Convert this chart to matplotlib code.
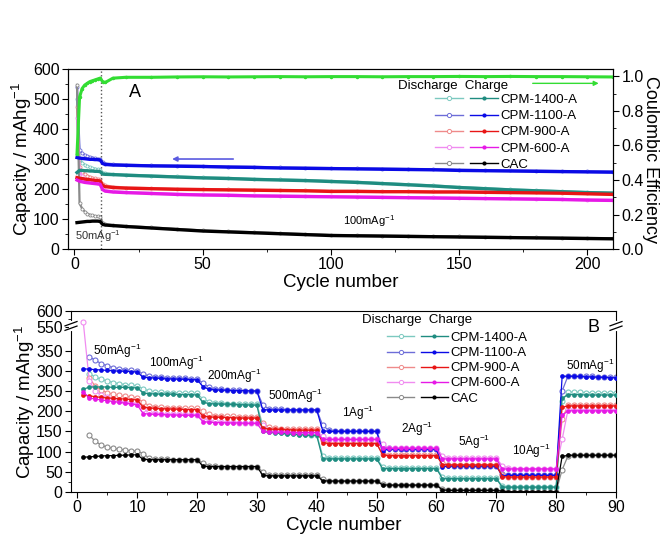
import numpy as np
import matplotlib
matplotlib.use('Agg')
import matplotlib.pyplot as plt
from matplotlib.lines import Line2D
from matplotlib.legend_handler import HandlerTuple
from matplotlib.ticker import MultipleLocator, FixedLocator

plt.rcParams['font.family'] = ['Liberation Sans', 'DejaVu Sans']
plt.rcParams['mathtext.fontset'] = 'custom'
plt.rcParams['mathtext.rm'] = 'Liberation Sans'

# ---------------- data, panel A (cycling at 100 mA/g) ----------------
cyc_a = [1, 2, 3, 4, 5, 6, 7, 8, 9, 10, 11, 12, 15, 20, 30, 40, 50, 60, 70, 80,
         90, 100, 110, 120, 130, 140, 150, 160, 170, 180, 190, 200, 210]

a_chg_1400 = [255, 262, 262, 261, 261, 260, 260, 259, 259, 258, 250, 249, 248, 246, 243, 240, 237,
              235, 232, 230, 228, 225, 222, 218, 214, 210, 205, 201, 197, 194, 191, 188, 186]
a_chg_1100 = [305, 303, 302, 301, 300, 299, 299, 298, 298, 297, 285, 282, 280, 279, 277, 276, 275,
              273, 272, 270, 269, 268, 267, 266, 265, 264, 262, 261, 260, 259, 258, 257, 256]
a_chg_900 = [238, 236, 235, 233, 232, 231, 230, 229, 228, 227, 212, 208, 205, 203, 201, 199, 198,
             197, 196, 195, 194, 192, 192, 191, 191, 190, 190, 189, 188, 187, 186, 184, 182]
a_chg_600 = [230, 226, 224, 222, 221, 220, 219, 218, 217, 216, 198, 193, 190, 188, 185, 182, 180,
             179, 177, 176, 175, 174, 173, 172, 171, 170, 169, 168, 167, 166, 165, 163, 162]
a_chg_cac = [88, 89, 90, 91, 92, 92, 93, 93, 93, 92, 82, 80, 78, 75, 70, 65, 60,
             57, 54, 51, 48, 45, 44, 43, 42, 41, 40, 39, 38, 37, 36, 35, 34]

a_dis_1400 = [500, 300, 288, 281, 277, 273, 270, 268, 266, 265, 255, 252, 250, 248, 245, 242, 239,
              237, 234, 232, 230, 227, 224, 220, 216, 212, 207, 203, 199, 196, 193, 190, 188]
a_dis_1100 = [540, 330, 320, 314, 310, 307, 305, 303, 301, 300, 290, 285, 283, 281, 279, 278, 277,
              275, 274, 272, 271, 270, 269, 268, 267, 266, 264, 263, 262, 261, 260, 259, 258]
a_dis_900 = [475, 275, 258, 250, 245, 241, 238, 236, 234, 232, 218, 212, 208, 205, 203, 201, 200,
             199, 198, 197, 196, 194, 194, 193, 193, 192, 192, 191, 190, 189, 188, 186, 184]
a_dis_600 = [437, 262, 242, 235, 230, 227, 225, 223, 221, 220, 203, 196, 193, 190, 187, 184, 182,
             181, 179, 178, 177, 176, 175, 174, 173, 172, 171, 170, 169, 168, 167, 165, 164]
a_dis_cac = [547, 152, 135, 125, 118, 114, 112, 110, 109, 108, 88, 83, 80, 77, 72, 67, 62,
             59, 56, 53, 50, 47, 46, 45, 44, 43, 42, 41, 40, 39, 38, 37, 36]

coul_eff = [0.55, 0.88, 0.93, 0.95, 0.96, 0.97, 0.975, 0.98, 0.985, 0.99, 0.97, 0.965, 0.99,
            0.995, 0.995, 0.997, 0.998, 0.997, 0.998, 0.999, 0.998, 0.999, 0.999, 0.998, 0.999,
            0.999, 1.0, 0.999, 1.0, 0.999, 0.999, 0.998, 0.997]

# ---------------- data, panel B (rate capability) ----------------
cyc_b = list(range(1, 91))
nan = np.nan

b_chg_1400 = [254, 260, 260, 260, 260, 259, 259, 259, 258, 258,
              245, 243, 243, 242, 242, 242, 241, 241, 241, 240,
              222, 219, 218, 218, 217, 217, 216, 216, 215, 215,
              150, 148, 146, 145, 144, 143, 142, 141, 140, 140,
              82, 82, 82, 82, 82, 82, 82, 82, 82, 82,
              58, 58, 58, 58, 58, 58, 58, 58, 58, 58,
              33, 33, 33, 33, 33, 33, 33, 33, 33, 33,
              12, 12, 12, 12, 12, 12, 12, 12, 12, 12,
              232, 241, 241, 241, 240, 240, 240, 240, 240, 240]
b_chg_1100 = [305, 304, 303, 302, 301, 300, 299, 299, 298, 297,
              284, 283, 282, 281, 280, 280, 279, 279, 278, 278,
              261, 254, 253, 252, 252, 251, 251, 251, 250, 250,
              204, 203, 203, 203, 203, 203, 203, 203, 203, 203,
              152, 150, 150, 150, 150, 150, 150, 150, 150, 150,
              102, 106, 106, 106, 106, 106, 106, 106, 106, 106,
              62, 64, 64, 64, 64, 64, 64, 64, 64, 64,
              40, 41, 41, 41, 41, 41, 41, 41, 41, 41,
              286, 287, 286, 286, 285, 285, 284, 284, 283, 283]
b_chg_900 = [240, 238, 236, 234, 233, 232, 231, 230, 229, 228,
             210, 208, 207, 206, 206, 205, 205, 204, 204, 204,
             188, 186, 185, 185, 184, 184, 183, 183, 183, 183,
             158, 156, 155, 155, 154, 154, 153, 153, 153, 153,
             122, 120, 120, 120, 120, 120, 120, 120, 120, 120,
             92, 90, 90, 90, 90, 90, 90, 90, 90, 90,
             68, 67, 67, 67, 67, 67, 67, 67, 67, 67,
             38, 37, 37, 37, 37, 37, 37, 37, 37, 37,
             210, 213, 213, 213, 213, 213, 213, 213, 213, 213]
b_chg_600 = [248, 233, 230, 228, 226, 224, 222, 220, 218, 216,
             194, 193, 192, 192, 191, 191, 190, 190, 190, 190,
             174, 173, 172, 172, 171, 171, 171, 170, 170, 170,
             150, 149, 148, 148, 148, 147, 147, 147, 147, 147,
             131, 130, 130, 130, 130, 130, 130, 130, 130, 130,
             108, 108, 108, 108, 108, 108, 108, 108, 108, 108,
             82, 82, 82, 82, 82, 82, 82, 82, 82, 82,
             57, 57, 57, 57, 57, 57, 57, 57, 57, 57,
             190, 201, 201, 201, 201, 201, 201, 201, 201, 201]
b_chg_cac = [86, 87, 88, 89, 90, 90, 91, 91, 92, 92,
             81, 80, 80, 80, 80, 80, 80, 80, 80, 80,
             64, 63, 63, 63, 63, 63, 63, 63, 63, 63,
             41, 40, 40, 40, 40, 40, 40, 40, 40, 40,
             28, 27, 27, 27, 27, 27, 27, 27, 27, 27,
             18, 17, 17, 17, 17, 17, 17, 17, 17, 17,
             5, 4, 4, 4, 4, 4, 4, 4, 4, 4,
             2, 1, 1, 1, 1, 1, 1, 1, 1, 1,
             88, 91, 91, 91, 91, 91, 91, 91, 91, 91]

b_dis_1400 = [nan, 293, 285, 279, 275, 271, 268, 266, 264, 263,
              255, 250, 248, 247, 246, 246, 245, 245, 244, 244,
              230, 224, 221, 220, 219, 219, 218, 218, 217, 217,
              165, 153, 150, 148, 146, 145, 144, 143, 142, 142,
              90, 84, 83, 83, 83, 83, 83, 83, 83, 83,
              63, 59, 59, 59, 59, 59, 59, 59, 59, 59,
              38, 34, 34, 34, 34, 34, 34, 34, 34, 34,
              15, 13, 13, 13, 13, 13, 13, 13, 13, 13,
              225, 248, 247, 247, 246, 246, 246, 245, 245, 245]
b_dis_1100 = [nan, 335, 326, 318, 312, 308, 305, 303, 301, 299,
              292, 287, 285, 284, 283, 282, 281, 281, 280, 280,
              270, 259, 255, 254, 253, 252, 252, 251, 251, 251,
              215, 206, 205, 205, 204, 204, 204, 204, 204, 204,
              165, 153, 152, 152, 151, 151, 151, 151, 151, 151,
              112, 108, 107, 107, 107, 107, 107, 107, 107, 107,
              70, 66, 65, 65, 65, 65, 65, 65, 65, 65,
              45, 42, 42, 42, 42, 42, 42, 42, 42, 42,
              250, 288, 287, 287, 286, 286, 285, 285, 284, 284]
b_dis_900 = [nan, 282, 262, 252, 246, 242, 239, 237, 235, 233,
             222, 214, 211, 210, 209, 208, 208, 207, 207, 207,
             200, 192, 189, 188, 187, 187, 186, 186, 186, 186,
             170, 160, 158, 157, 157, 156, 156, 156, 155, 155,
             128, 122, 121, 121, 121, 121, 121, 121, 121, 121,
             95, 92, 91, 91, 91, 91, 91, 91, 91, 91,
             72, 68, 68, 68, 68, 68, 68, 68, 68, 68,
             42, 38, 38, 38, 38, 38, 38, 38, 38, 38,
             180, 216, 215, 215, 215, 215, 215, 215, 215, 215]
b_dis_600 = [565, 275, 250, 240, 234, 229, 226, 223, 221, 219,
             205, 197, 195, 194, 193, 193, 192, 192, 192, 191,
             185, 177, 175, 174, 173, 173, 172, 172, 172, 172,
             165, 152, 150, 150, 149, 149, 149, 149, 149, 149,
             138, 132, 131, 131, 131, 131, 131, 131, 131, 131,
             118, 110, 109, 109, 109, 109, 109, 109, 109, 109,
             90, 85, 84, 84, 84, 84, 84, 84, 84, 84,
             65, 59, 58, 58, 58, 58, 58, 58, 58, 58,
             130, 205, 204, 204, 204, 204, 204, 204, 204, 204]
b_dis_cac = [nan, 140, 126, 116, 111, 108, 106, 104, 102, 101,
             95, 84, 82, 81, 81, 80, 80, 80, 80, 80,
             72, 65, 64, 63, 63, 63, 63, 63, 63, 63,
             50, 42, 41, 41, 41, 41, 41, 41, 41, 41,
             32, 28, 28, 28, 28, 28, 28, 28, 28, 28,
             20, 18, 18, 18, 18, 18, 18, 18, 18, 18,
             8, 5, 5, 5, 5, 5, 5, 5, 5, 5,
             2, 1, 1, 1, 1, 1, 1, 1, 1, 1,
             55, 90, 91, 91, 91, 91, 91, 91, 91, 91]

names = ['CPM-1400-A', 'CPM-1100-A', 'CPM-900-A', 'CPM-600-A', 'CAC']
c_chg = ['#1f8c80', '#0a0ae6', '#e81515', '#e619e6', '#000000']
c_dis = ['#7cc9c0', '#6d6dd8', '#ef8a8a', '#f08cf0', '#8a8a8a']

rates_b = ['50mAg$^{-1}$', '100mAg$^{-1}$', '200mAg$^{-1}$', '500mAg$^{-1}$', '1Ag$^{-1}$',
           '2Ag$^{-1}$', '5Ag$^{-1}$', '10Ag$^{-1}$', '50mAg$^{-1}$']
rate_pos = [(2.6, 350), (11.9, 320), (21.7, 288), (31.9, 238), (44.2, 197),
            (54.0, 157), (63.6, 125), (72.6, 103), (81.6, 313)]

fig = plt.figure(figsize=(6.63, 5.43), dpi=100)

# ================= panel A =================
ax1 = fig.add_axes([0.1026, 0.5414, 0.822, 0.3315])
a_chg = [a_chg_1400, a_chg_1100, a_chg_900, a_chg_600, a_chg_cac]
a_dis = [a_dis_1400, a_dis_1100, a_dis_900, a_dis_600, a_dis_cac]
for i in range(5):
    ax1.plot(cyc_a, a_dis[i], color=c_dis[i], lw=1.6, marker='o', ms=2.2,
             mfc='white', mew=0.6, zorder=2)
for i in range(5):
    ax1.plot(cyc_a, a_chg[i], color=c_chg[i], lw=2.4, zorder=3)

ax1.axvline(10.4, color='#555555', ls=':', lw=1)
ax1.set_xlim(-2.5, 210)
ax1.set_ylim(0, 600)
ax1.xaxis.set_major_locator(MultipleLocator(50))
ax1.xaxis.set_minor_locator(MultipleLocator(25))
ax1.yaxis.set_major_locator(MultipleLocator(100))
ax1.yaxis.set_minor_locator(MultipleLocator(50))
ax1.set_xlabel('Cycle number', fontsize=13.5, labelpad=1)
ax1.set_ylabel('Capacity / mAhg$^{-1}$', fontsize=13.5, labelpad=-1)
ax1.tick_params(labelsize=11.5, length=4, pad=2)
ax1.tick_params(which='minor', length=2)
ax1.tick_params(top=False)

ax1.annotate('', xy=(37, 300), xytext=(63, 300),
             arrowprops=dict(arrowstyle='-|>', color='#5a5ae0', lw=1.2, mutation_scale=7))
ax1.text(0.123, 0.87, 'A', transform=ax1.transAxes, fontsize=13, ha='center', va='center')
ax1.text(0.3, 44, '50mAg$^{-1}$', fontsize=8, ha='left', va='center', color='#333333')
ax1.text(104.7, 94, '100mAg$^{-1}$', fontsize=8, ha='left', va='center')

ax1r = ax1.twinx()
ax1r.plot(cyc_a, coul_eff, color='#33dd33', lw=2.2, marker='o', ms=1.5)
ax1r.set_ylim(0, 1.043)
ax1r.yaxis.set_major_locator(MultipleLocator(0.2))
ax1r.yaxis.set_minor_locator(MultipleLocator(0.1))
ax1r.yaxis.set_major_formatter(matplotlib.ticker.FormatStrFormatter('%.1f'))
ax1r.tick_params(labelsize=11.5, length=4, pad=2)
ax1r.tick_params(which='minor', length=2)
ax1r.set_ylabel('Coulombic Efficiency', fontsize=13, rotation=270, labelpad=11)
ax1r.annotate('', xy=(205.5, 0.96), xytext=(177.6, 0.96),
              arrowprops=dict(arrowstyle='-|>', color='#33dd33', lw=1.0, mutation_scale=7))


def legend_block(ax, hx, hy, lx, ly, hlen, lspace):
    handles = []
    for i in range(5):
        d = Line2D([], [], color=c_dis[i], lw=1, marker='o', ms=3, mfc='white', mew=0.7)
        c = Line2D([], [], color=c_chg[i], lw=1, marker='o', ms=3, mew=0)
        handles.append((d, c))
    ax.text(hx, hy, 'Discharge  Charge', transform=ax.transAxes, fontsize=9.5,
            ha='left', va='center')
    leg = ax.legend(handles, names, handler_map={tuple: HandlerTuple(ndivide=None, pad=0.5)},
                    loc='upper left', bbox_to_anchor=(lx, ly), frameon=False, fontsize=9.5,
                    handlelength=hlen, handletextpad=0.2, labelspacing=lspace,
                    borderaxespad=0, borderpad=0, numpoints=1)
    return leg


leg1 = legend_block(ax1r, 0.605, 0.907, 0.673, 0.862, 4.8, 0.3)

# ================= panel B =================
ax2 = fig.add_axes([0.1071, 0.0939, 0.822, 0.3333])

bp_lo, bp_hi = 380.0, 540.0
d_lo, d_hi, k_up = 380.0, 400.6, 0.79


def fwd(y):
    y = np.asarray(y, dtype=float)
    mid = d_lo + (y - bp_lo) * (d_hi - d_lo) / (bp_hi - bp_lo)
    up = d_hi + (y - bp_hi) * k_up
    return np.where(y <= bp_lo, y, np.where(y >= bp_hi, up, mid))


def inv(v):
    v = np.asarray(v, dtype=float)
    mid = bp_lo + (v - d_lo) * (bp_hi - bp_lo) / (d_hi - d_lo)
    up = bp_hi + (v - d_hi) / k_up
    return np.where(v <= d_lo, v, np.where(v >= d_hi, up, mid))


ax2.set_yscale('function', functions=(fwd, inv))

b_chg = [b_chg_1400, b_chg_1100, b_chg_900, b_chg_600, b_chg_cac]
b_dis = [b_dis_1400, b_dis_1100, b_dis_900, b_dis_600, b_dis_cac]
for i in range(5):
    ax2.plot(cyc_b, b_dis[i], color=c_dis[i], lw=0.9, marker='o', ms=3.6,
             mfc='white', mec=c_dis[i], mew=0.8, zorder=2)
for i in range(5):
    ax2.plot(cyc_b, b_chg[i], color=c_chg[i], lw=0.9, marker='o', ms=3.4, mew=0, zorder=3)

ax2.set_xlim(-1.05, 90)
ax2.set_ylim(0, 600)
ax2.xaxis.set_major_locator(MultipleLocator(10))
ax2.xaxis.set_minor_locator(MultipleLocator(5))
ax2.yaxis.set_major_locator(FixedLocator([0, 50, 100, 150, 200, 250, 300, 350, 550, 600]))
ax2.yaxis.set_minor_locator(FixedLocator([25, 75, 125, 175, 225, 275, 325, 575]))
ax2.yaxis.set_major_formatter(matplotlib.ticker.FormatStrFormatter('%d'))
ax2.yaxis.set_minor_formatter(matplotlib.ticker.NullFormatter())
ax2.set_xlabel('Cycle number', fontsize=13.5, labelpad=1)
ax2.set_ylabel('Capacity / mAhg$^{-1}$', fontsize=13.5, labelpad=-1)
ax2.tick_params(labelsize=11.5, length=4, pad=2)
ax2.tick_params(which='minor', length=2)

for (tx, ty), lab in zip(rate_pos, rates_b):
    ax2.text(tx, ty, lab, fontsize=8.5, ha='left', va='center')
ax2.text(0.958, 0.91, 'B', transform=ax2.transAxes, fontsize=13, ha='center', va='center')

# axis break marks
for xb in (0.0, 1.0):
    yb = 0.905
    ax2.plot([xb, xb], [yb - 0.005, yb + 0.03], transform=ax2.transAxes, color='white',
             lw=3, clip_on=False, zorder=5)
    for dy in (0.0, 0.025):
        ax2.plot([xb - 0.011, xb + 0.011], [yb - 0.012 + dy, yb + 0.012 + dy],
                 transform=ax2.transAxes, color='black', lw=0.9, clip_on=False, zorder=6)

leg2 = legend_block(ax2, 0.534, 0.952, 0.58, 0.885, 4.6, 0.22)

fig.savefig('out.png', dpi=100)
